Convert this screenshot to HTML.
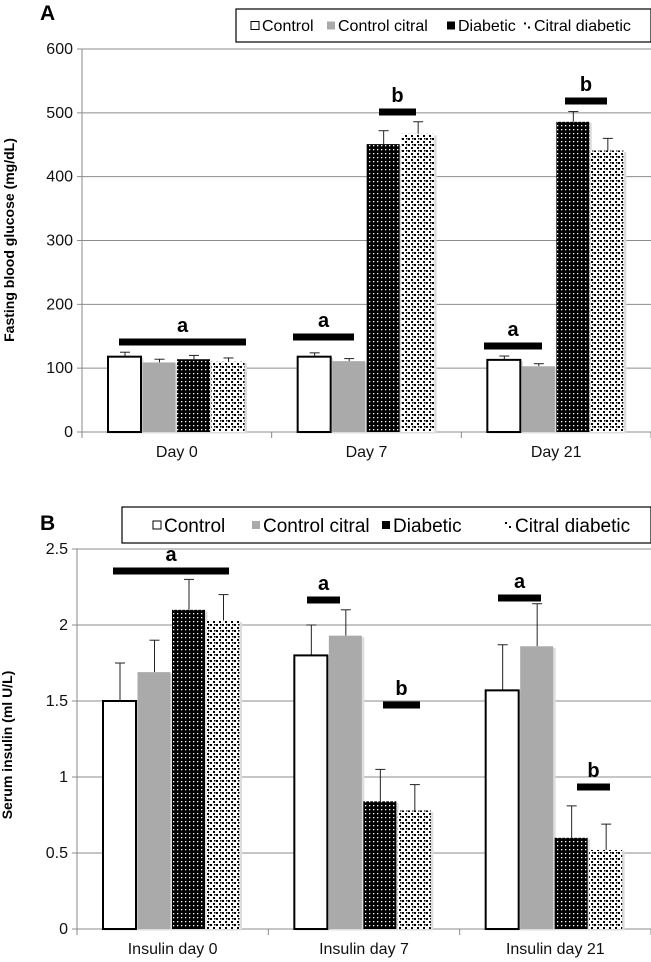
<!DOCTYPE html>
<html><head><meta charset="utf-8"><style>
html,body{margin:0;padding:0;background:#fff;width:651px;height:962px;overflow:hidden}
svg{display:block;font-family:"Liberation Sans Narrow","Liberation Sans",sans-serif}
</style></head><body>
<svg id="c" width="651" height="962" viewBox="0 0 651 962">
<defs>
<pattern id="pd" width="4" height="4" patternUnits="userSpaceOnUse"><rect width="4" height="4" fill="#000"/><rect x="1" y="1" width="1.3" height="1.3" fill="#fff"/></pattern>
<pattern id="pc" width="6" height="6" patternUnits="userSpaceOnUse"><rect width="6" height="6" fill="#fff"/><rect x="0" y="0" width="2" height="2" fill="#000"/><rect x="3" y="3" width="2" height="2" fill="#000"/><rect x="4" y="0" width="1.5" height="1.5" fill="#000"/></pattern>
</defs>
<g id="a"></g>
<g id="b"></g>
</svg>
<script>
const catsA=["Day 0","Day 7","Day 21"];
const ctrlA=[118,118,113];
const ctrlCitA=[109,111,103];
const diabA=[114,451,486];
const citDiabA=[110,467,441];
const ctrlAErr=[7,6,6];
const ctrlCitAErr=[5,4,4];
const diabAErr=[6,21,16];
const citDiabAErr=[6,19,19];
const ticksA=[0,100,200,300,400,500,600];

const catsB=["Insulin day 0","Insulin day 7","Insulin day 21"];
const ctrlB=[1.5,1.8,1.57];
const ctrlCitB=[1.69,1.93,1.86];
const diabB=[2.1,0.84,0.6];
const citDiabB=[2.03,0.78,0.52];
const ctrlBErr=[0.25,0.2,0.3];
const ctrlCitBErr=[0.21,0.17,0.28];
const diabBErr=[0.2,0.21,0.21];
const citDiabBErr=[0.17,0.17,0.17];
const ticksB=[0,0.5,1,1.5,2,2.5];
const tickLabB=["0","0.5","1","1.5","2","2.5"];

const NS="http://www.w3.org/2000/svg";
function mk(p,t,a,txt){const e=document.createElementNS(NS,t);for(const k in a)e.setAttribute(k,a[k]);if(txt!==undefined)e.textContent=txt;p.appendChild(e);return e;}
const fills=["#fff","#aaa","url(#pd)","url(#pc)"];

function chart(g,cfg){
  const {x0,x1,y0,yTop,max,cats,series,errs,ticks,tickLab,ytitle,ytx,yty,letter,lx,ly,legend,sig,fs}=cfg;
  const W=(x1-x0)/cats.length;
  const ys=v=>y0-(v/max)*(y0-yTop);
  const xs=(i,j)=>x0+i*W+26+j*34.5;
  ticks.forEach((t,k)=>{
    let l=mk(g,'line',{x1:x0-5,x2:x1,y1:ys(t),y2:ys(t),stroke:'#8c8c8c','stroke-width':1});
    
    
    let tx=mk(g,'text',{x:x0-9,y:ys(t)+5,'text-anchor':'end','font-size':16,fill:'#111'},tickLab?tickLab[k]:String(t));
    
    
  });
  mk(g,'line',{x1:x0,x2:x0,y1:yTop,y2:y0+6,stroke:'#888'});
  for(let i=0;i<=cats.length;i++){mk(g,'line',{x1:x0+i*W,x2:x0+i*W,y1:y0,y2:y0+6,stroke:'#888'});}
  cats.forEach((c,i)=>{
    let t=mk(g,'text',{x:x0+i*W+W/2,y:y0+25,'text-anchor':'middle','font-size':16,fill:'#111'},c);
    
    
    series.forEach((s,j)=>{
      const x=xs(i,j),y=ys(s[i]),h=y0-y;
      mk(g,'line',{x1:x+17,x2:x+17,y1:y,y2:ys(s[i]+errs[j][i]),stroke:'#222','stroke-width':1});
      mk(g,'line',{x1:x+12,x2:x+22,y1:ys(s[i]+errs[j][i]),y2:ys(s[i]+errs[j][i]),stroke:'#222','stroke-width':1});
      mk(g,'rect',{x:x+1.5,y:y+1.5,width:34,height:h,fill:'#ddd'});
      let r=mk(g,'rect',{x:x,y:y,width:33,height:h,fill:fills[j],stroke:j==0?'#000':'none','stroke-width':j==0?2:0});
      
      
    });
  });
  sig.forEach(s=>{
    let r=mk(g,'rect',{x:s[0],y:s[2]-3.5,width:s[1]-s[0],height:7,fill:'#000'});
    
    
    let t=mk(g,'text',{x:(s[0]+s[1])/2,y:s[2]-10,'text-anchor':'middle','font-size':20,'font-weight':'bold'},s[3]);
    
    
  });
  let yt=mk(g,'text',{x:0,y:0,transform:`translate(${ytx},${yty}) rotate(-90)`,'text-anchor':'middle','font-size':14,'font-weight':'bold'},ytitle);
  
  
  let L=mk(g,'text',{x:lx,y:ly,'font-size':21,'font-weight':'bold','font-family':'Liberation Sans,sans-serif'},letter);
  
  
  const lg=mk(g,'g',{});
  
  
  mk(lg,'rect',{x:legend.x,y:legend.y,width:legend.w,height:legend.h,fill:'#fff',stroke:'#000','stroke-width':1.2});
  const names=["Control","Control citral","Diabetic","Citral diabetic"];
  names.forEach((n,j)=>{
    const ex=legend.xs[j],ey=legend.y+legend.h/2;
    mk(lg,'rect',{x:ex,y:ey-4,width:8,height:8,fill:j==0?'#fff':j==1?'#aaa':j==2?'#000':'#fff',stroke:j==0?'#000':'none'});
    if(j==3){mk(lg,'rect',{x:ex+1,y:ey-3,width:2,height:2,fill:'#000'});mk(lg,'rect',{x:ex+5,y:ey+1,width:2,height:2,fill:'#000'});}
    let t=mk(lg,'text',{x:ex+11,y:ey+fs/2.8,'font-size':fs},n);
    
    
  });
}
chart(document.getElementById('a'),{x0:82,x1:651,y0:432,yTop:49,max:600,cats:catsA,
  series:[ctrlA,ctrlCitA,diabA,citDiabA],errs:[ctrlAErr,ctrlCitAErr,diabAErr,citDiabAErr],ticks:ticksA,
  ytitle:"Fasting blood glucose (mg/dL)",ytx:14,yty:240,letter:"A",lx:40,ly:20,
  legend:{x:236,y:9,w:415,h:33,xs:[251,327,447,523]},fs:16,
  sig:[[119,246,342,"a"],[293,354,337,"a"],[379,416,112,"b"],[484,542,346,"a"],[565,607,101,"b"]]});
chart(document.getElementById('b'),{x0:77,x1:651,y0:929,yTop:549,max:2.5,cats:catsB,
  series:[ctrlB,ctrlCitB,diabB,citDiabB],errs:[ctrlBErr,ctrlCitBErr,diabBErr,citDiabBErr],ticks:ticksB,tickLab:tickLabB,
  ytitle:"Serum insulin (ml U/L)",ytx:12,yty:745,letter:"B",lx:40,ly:530,
  legend:{x:122,y:507,w:529,h:36,xs:[153,252,382,504]},fs:19,
  sig:[[113,229,571,"a"],[307,340,600,"a"],[383,420,705,"b"],[498,541,598,"a"],[577,610,787,"b"]]});
</script>
</body></html>
